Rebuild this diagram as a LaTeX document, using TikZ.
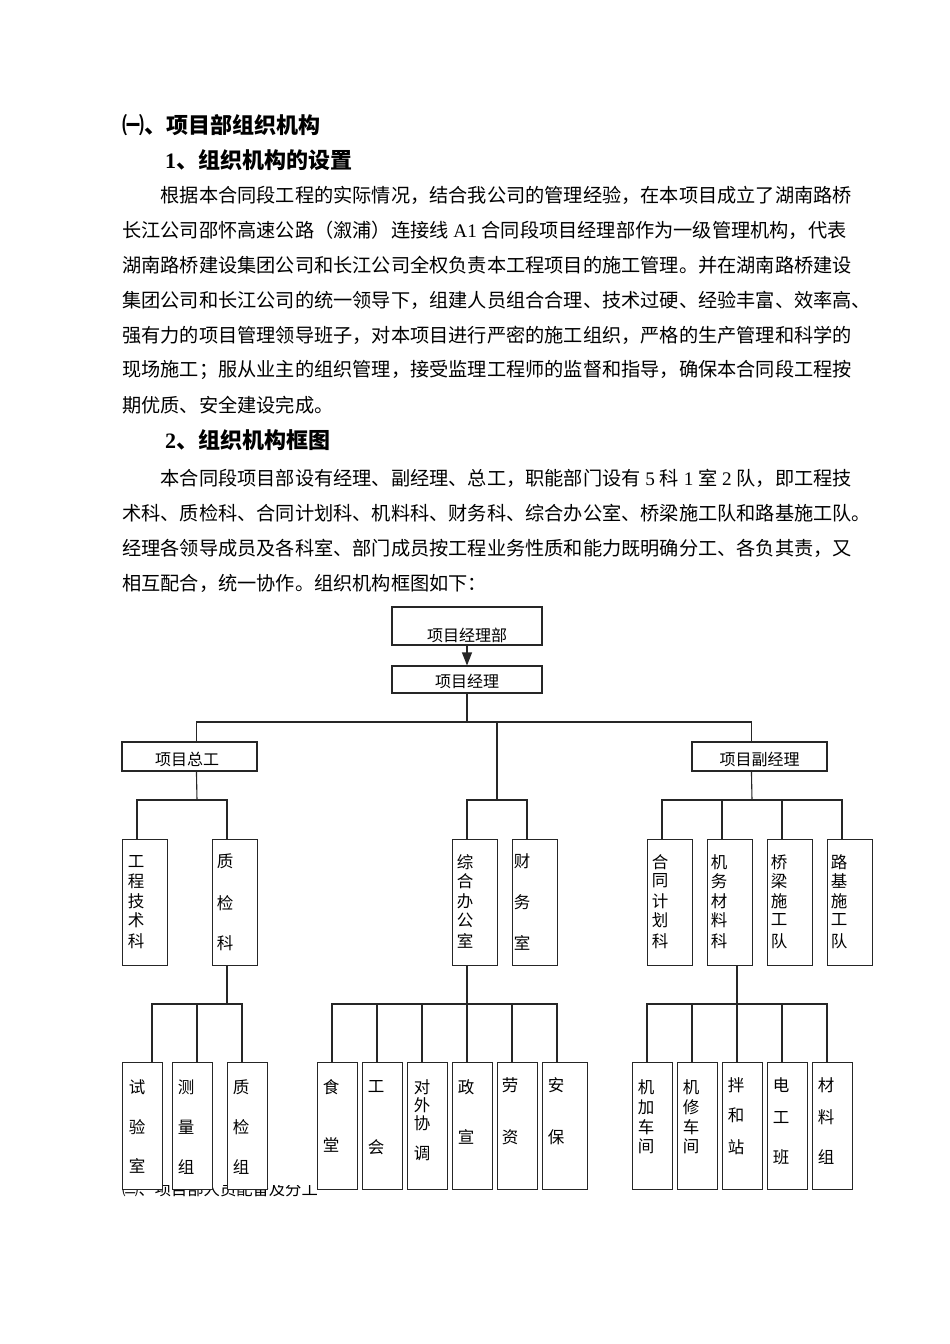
\documentclass[tikz,border=0pt]{standalone}
\usepackage{fontspec}
\setmainfont{Noto Sans CJK SC}
\newfontfamily\latf{Liberation Serif}
\usetikzlibrary{arrows.meta,calc}
\newcommand\lt[1]{{\latf #1}}
\begin{document}
\begin{tikzpicture}[x=1pt,y=-1pt,
  bx/.style={draw=black!85,line width=1.1pt,fill=white,inner sep=0pt},
  ln/.style={draw=black!85,line width=1.1pt},
  bt/.style={font=\fontsize{19.2}{19.2}\selectfont,anchor=west,inner sep=0pt},
  hd/.style={font=\fontsize{22}{22}\selectfont\bfseries,anchor=west,inner sep=0pt},
  bxt/.style={font=\fontsize{16}{16}\selectfont,inner sep=0pt},
  ch/.style={font=\fontsize{16.5}{16.5}\selectfont,inner sep=0pt}]
\useasboundingbox (0,0) rectangle (950,1344);
\fill[white] (0,0) rectangle (950,1344);
% headings and text
\node[hd] (h1) at (122,125) {㈠、项目部组织机构};
\node[hd] (h2) at (165,160) {\lt{1}、组织机构的设置};
\node[bt] (p1) at (160.4,195) {根据本合同段工程的实际情况，结合我公司的管理经验，在本项目成立了湖南路桥};
\node[bt] (p2) at (122,230) {长江公司邵怀高速公路（溆浦）连接线\lt{ A1 }合同段项目经理部作为一级管理机构，代表};
\node[bt] (p3) at (122,265) {湖南路桥建设集团公司和长江公司全权负责本工程项目的施工管理。并在湖南路桥建设};
\node[bt] (p4) at (122,300) {集团公司和长江公司的统一领导下，组建人员组合合理、技术过硬、经验丰富、效率高、};
\node[bt] (p5) at (122,335) {强有力的项目管理领导班子，对本项目进行严密的施工组织，严格的生产管理和科学的};
\node[bt] (p6) at (122,370) {现场施工；服从业主的组织管理，接受监理工程师的监督和指导，确保本合同段工程按};
\node[bt] (p7) at (122,405) {期优质、安全建设完成。};
\node[hd] (h3) at (165,440) {\lt{2}、组织机构框图};
\node[bt] (q1) at (160.4,478) {本合同段项目部设有经理、副经理、总工，职能部门设有\lt{ 5 }科\lt{ 1 }室\lt{ 2 }队，即工程技};
\node[bt] (q2) at (122,513) {术科、质检科、合同计划科、机料科、财务科、综合办公室、桥梁施工队和路基施工队。};
\node[bt] (q3) at (122,548) {经理各领导成员及各科室、部门成员按工程业务性质和能力既明确分工、各负其责，又};
\node[bt] (q4) at (122,583) {相互配合，统一协作。组织机构框图如下：};
\node[font=\fontsize{16.3}{16.3}\selectfont,anchor=base west,inner sep=0pt] (q5) at (122,1195) {㈡、项目部人员配备及分工};
% chart canvas
\fill[white] (100,600) rectangle (890,1185);
% top boxes
\node[bx,minimum width=150pt,minimum height=38pt] (b0) at (467,626) {};
\node[bxt] (b0t) at (467,635) {项目经理部};
\node[bx,minimum width=150pt,minimum height=27pt] (b1) at (467,679.5) {};
\node[bxt] (b1t) at (467,681) {项目经理};
\draw[ln,-{Triangle[length=13pt,width=10pt]}] (b0.south) -- (b1.north);
\node[bx,minimum width=135pt,minimum height=29pt] (b2) at (189.5,756.5) {};
\node[bxt] (b2t) at (187,759) {项目总工};
\node[bx,minimum width=135pt,minimum height=29pt] (b3) at (759.5,756.5) {};
\node[bxt] (b3t) at (759.5,759) {项目副经理};
\coordinate (j1) at (467,722);
\coordinate (j2) at (497,722);
\draw[ln] (b1.south) -- (j1);
\draw[ln] ($(b2.north west)+(75,0)$) |- (j1) -| ($(b3.north west)+(60,0)$);
% row 2 boxes
\foreach \nm/\xl in {k1/122,k2/212,k3/452,k4/512,k5/647,k6/707,k7/767,k8/827}
  \node[bx,minimum width=45pt,minimum height=126pt,anchor=north west] (\nm) at (\xl,839) {};
\coordinate (jL) at (197,800);
\coordinate (jM) at (497,800);
\coordinate (jR) at (752,800);
\draw[ln] ($(b2.south west)+(75,0)$) -- (jL);
\draw[ln] (j2) -- (jM);
\draw[ln] ($(b3.south west)+(60,0)$) -- (jR);
\draw[ln] ($(k1.north west)+(15,0)$) |- (jL) -| ($(k2.north west)+(15,0)$);
\draw[ln] ($(k3.north west)+(15,0)$) |- (jM) -| ($(k4.north west)+(15,0)$);
\draw[ln] ($(k5.north west)+(15,0)$) |- (jR) -| ($(k8.north west)+(15,0)$);
\draw[ln] ($(k6.north west)+(15,0)$) |- (jR);
\draw[ln] ($(k7.north west)+(15,0)$) |- (jR);
% row 2 texts
\foreach \yy/\cc [count=\i] in {862/工,881/程,901/技,920/术,941/科} \node[ch] (k1t\i) at (136,\yy) {\cc};
\foreach \yy/\cc [count=\i] in {861/质,903/检,943/科} \node[ch] (k2t\i) at (225,\yy) {\cc};
\foreach \yy/\cc [count=\i] in {862/综,881/合,901/办,920/公,941/室} \node[ch] (k3t\i) at (465,\yy) {\cc};
\foreach \yy/\cc [count=\i] in {861/财,902/务,943/室} \node[ch] (k4t\i) at (522,\yy) {\cc};
\foreach \yy/\cc [count=\i] in {862/合,881/同,901/计,920/划,941/科} \node[ch] (k5t\i) at (660,\yy) {\cc};
\foreach \yy/\cc [count=\i] in {862/机,881/务,901/材,920/料,941/科} \node[ch] (k6t\i) at (719,\yy) {\cc};
\foreach \yy/\cc [count=\i] in {862/桥,881/梁,901/施,920/工,941/队} \node[ch] (k7t\i) at (779,\yy) {\cc};
\foreach \yy/\cc [count=\i] in {862/路,881/基,901/施,920/工,941/队} \node[ch] (k8t\i) at (839,\yy) {\cc};
% row 3 boxes
\foreach \nm/\xl/\w in {s1/122/40,s2/172/40,s3/227/40,s4/317/40,s5/362/40,s6/407/40,s7/452/40,s8/497/40,s9/542/45,s10/632/40,s11/677/40,s12/722/40,s13/767/40,s14/812/40}
  \node[bx,minimum width=\w pt,minimum height=127pt,anchor=north west] (\nm) at (\xl,1062) {};
\coordinate (jL3) at (227,1004);
\coordinate (jM3) at (467,1004);
\coordinate (jR3) at (737,1004);
\draw[ln] ($(k2.south west)+(15,0)$) -- (jL3);
\draw[ln] ($(k3.south west)+(15,0)$) -- (jM3);
\draw[ln] ($(k6.south west)+(30,0)$) -- (jR3);
\draw[ln] ($(s1.north west)+(30,0)$) |- (jL3) -| ($(s3.north west)+(15,0)$);
\draw[ln] ($(s2.north west)+(25,0)$) |- (jL3);
\draw[ln] ($(s4.north west)+(15,0)$) |- (jM3) -| ($(s9.north west)+(15,0)$);
\foreach \nm in {s5,s6,s7,s8} \draw[ln] ($(\nm.north west)+(15,0)$) |- (jM3);
\draw[ln] ($(s10.north west)+(15,0)$) |- (jR3) -| ($(s14.north west)+(15,0)$);
\foreach \nm in {s11,s12,s13} \draw[ln] ($(\nm.north west)+(15,0)$) |- (jR3);
% row 3 texts
\foreach \yy/\cc [count=\i] in {1087/试,1127/验,1166/室} \node[ch] (s1t\i) at (137,\yy) {\cc};
\foreach \yy/\cc [count=\i] in {1087/测,1127/量,1167/组} \node[ch] (s2t\i) at (186,\yy) {\cc};
\foreach \yy/\cc [count=\i] in {1087/质,1127/检,1167/组} \node[ch] (s3t\i) at (241,\yy) {\cc};
\foreach \yy/\cc [count=\i] in {1087/食,1145/堂} \node[ch] (s4t\i) at (331,\yy) {\cc};
\foreach \yy/\cc [count=\i] in {1087/工,1147/会} \node[ch] (s5t\i) at (376,\yy) {\cc};
\foreach \yy/\cc [count=\i] in {1087/对,1105/外,1123/协,1153/调} \node[ch] (s6t\i) at (422,\yy) {\cc};
\foreach \yy/\cc [count=\i] in {1087/政,1137/宣} \node[ch] (s7t\i) at (466,\yy) {\cc};
\foreach \yy/\cc [count=\i] in {1085/劳,1137/资} \node[ch] (s8t\i) at (510,\yy) {\cc};
\foreach \yy/\cc [count=\i] in {1085/安,1137/保} \node[ch] (s9t\i) at (556,\yy) {\cc};
\foreach \yy/\cc [count=\i] in {1087/机,1107/加,1127/车,1146/间} \node[ch] (s10t\i) at (646,\yy) {\cc};
\foreach \yy/\cc [count=\i] in {1087/机,1107/修,1127/车,1146/间} \node[ch] (s11t\i) at (691,\yy) {\cc};
\foreach \yy/\cc [count=\i] in {1085/拌,1115/和,1147/站} \node[ch] (s12t\i) at (736,\yy) {\cc};
\foreach \yy/\cc [count=\i] in {1085/电,1118/工,1157/班} \node[ch] (s13t\i) at (781,\yy) {\cc};
\foreach \yy/\cc [count=\i] in {1085/材,1117/料,1157/组} \node[ch] (s14t\i) at (826,\yy) {\cc};
\end{tikzpicture}
\end{document}
